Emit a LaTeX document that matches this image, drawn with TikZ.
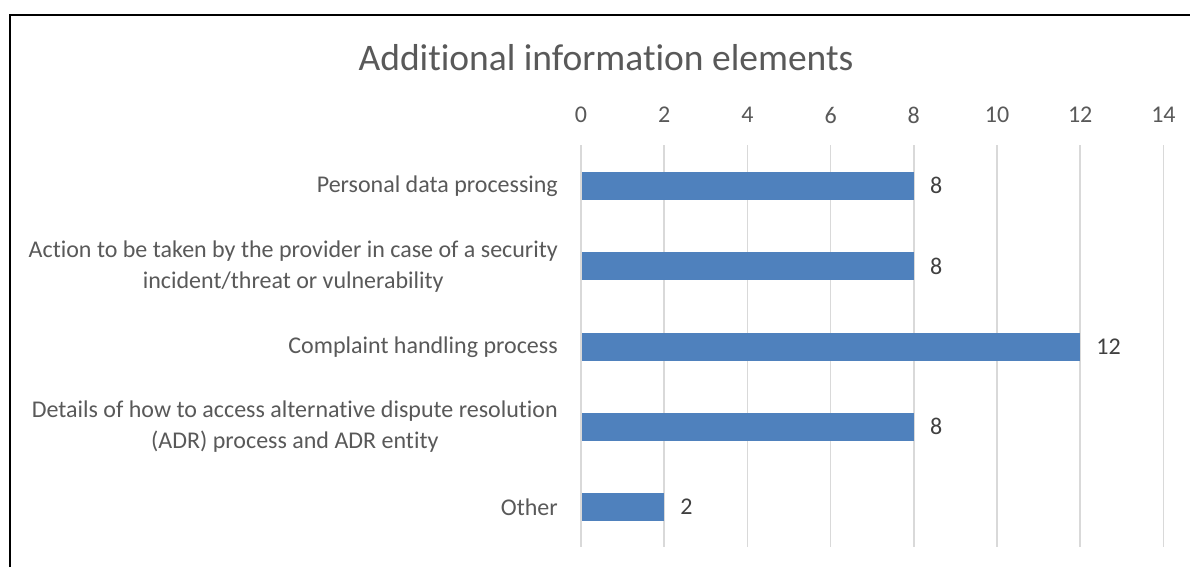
\documentclass[tikz,border=0pt]{standalone}
\usepackage{fontspec}
\setmainfont{Carlito}[Ligatures={NoCommon}]
\definecolor{barblue}{HTML}{4F81BD}
\definecolor{gridgray}{HTML}{D9D9D9}
\definecolor{labelgray}{HTML}{595959}
\definecolor{valgray}{HTML}{404040}
\begin{document}
\begin{tikzpicture}[x=1pt,y=-1pt,
  catlabel/.style={anchor=east,align=center,text=labelgray,font=\fontsize{24}{31}\selectfont,inner sep=0pt},
  ticklabel/.style={text=labelgray,font=\fontsize{24}{28}\selectfont,inner sep=0pt},
  vallabel/.style={anchor=west,text=valgray,font=\fontsize{24}{28}\selectfont,inner sep=0pt},
  bar/.style={fill=barblue,draw=none},
  gridline/.style={draw=gridgray,line width=1.5pt}]
\useasboundingbox (0,0) rectangle (1190,567);
\fill[white] (0,0) rectangle (1190,567);
% frame
\draw[line width=2pt] (10,567) -- (10,14.7) -- (1190,14.7);
% title
\node[text=labelgray,font=\fontsize{37.5}{44}\selectfont,inner sep=0pt] (title) at (606,58) {Additional information elements};
% grid and ticks
\foreach \v in {0,2,...,14} {
  \coordinate (gt\v) at ({581+41.6*\v},145);
  \coordinate (gb\v) at ({581+41.6*\v},547);
  \draw[gridline] (gt\v) -- (gb\v);
  \node[ticklabel] (tick\v) at ({581+41.6*\v},115) {\v};
}
% bars
\foreach \i/\v/\y in {1/8/185.5, 2/8/266, 3/12/346.5, 4/8/426.5, 5/2/507} {
  \path[bar] (581.5,\y-14) rectangle ({581+41.6*\v},\y+14);
  \coordinate (barend\i) at ({581+41.6*\v},\y);
  \node[vallabel] (val\i) at ([xshift=16pt]barend\i) {\v};
}
% category labels
\node[catlabel] (cat1) at (558,186.5) {Personal data processing};
\node[catlabel] (cat2) at (558,266.5) {Action to be taken by the provider in case of a security\\incident/threat or vulnerability};
\node[catlabel] (cat3) at (558,347) {Complaint handling process};
\node[catlabel] (cat4) at (558,427) {Details of how to access alternative dispute resolution\\(ADR) process and ADR entity};
\node[catlabel] (cat5) at (558,507.5) {Other};
\end{tikzpicture}
\end{document}
